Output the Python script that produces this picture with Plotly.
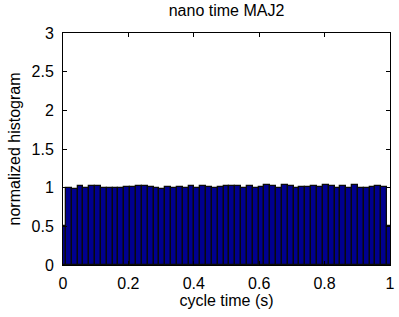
import plotly.graph_objects as go

# bin centers: 0, 1/56, ..., 1
n_bins = 56
centers = [i / n_bins for i in range(n_bins + 1)]
heights = [0.50,
           0.99, 0.98, 1.02, 0.99, 1.02, 1.02, 1.00, 1.00, 1.00, 1.00,
           1.01, 1.01, 1.02, 1.02, 1.01, 0.99, 0.98, 1.01, 0.99, 1.01,
           1.00, 1.02, 1.00, 1.02, 1.01, 1.00, 1.01, 1.02, 1.02, 1.02,
           1.00, 1.02, 1.00, 1.01, 1.04, 1.02, 0.99, 1.03, 1.02, 1.00,
           1.01, 1.01, 1.02, 1.01, 1.03, 1.02, 1.00, 1.02, 1.00, 1.03,
           0.99, 0.99, 1.01, 1.02, 1.01,
           0.50]

x_ticks = [0, 0.2, 0.4, 0.6, 0.8, 1]
x_tick_text = ["0", "0.2", "0.4", "0.6", "0.8", "1"]
y_ticks = [0, 0.5, 1, 1.5, 2, 2.5, 3]
y_tick_text = ["0", "0.5", "1", "1.5", "2", "2.5", "3"]

FONT = "Liberation Sans"
FS = 16

fig = go.Figure(go.Bar(
    x=centers, y=heights, width=1 / n_bins,
    marker=dict(color="rgb(0,0,143)", line=dict(color="rgb(10,10,10)", width=1.3)),
    hoverinfo="skip",
))

fig.update_layout(
    width=399, height=317,
    margin=dict(l=63, r=9, t=33, b=52, autoexpand=False),
    paper_bgcolor="white", plot_bgcolor="white",
    showlegend=False,
    bargap=0,
    font=dict(family=FONT, size=FS, color="black"),
    title=dict(text="nano time MAJ2", x=(63 + 390) / 2 / 399, xanchor="center",
               y=1 - 10 / 317, yanchor="middle",
               font=dict(family=FONT, size=FS, color="black")),
)
fig.update_xaxes(
    range=[0, 1], autorange=False, tickvals=x_ticks, ticktext=x_tick_text,
    tickfont=dict(family=FONT, size=FS, color="black"),
    showgrid=False, zeroline=False, showline=True, linecolor="black", linewidth=1,
    mirror="ticks", ticks="inside", ticklen=4, tickcolor="black",
    title=dict(text="cycle time (s)", standoff=3,
               font=dict(family=FONT, size=FS, color="black")),
    ticklabelstandoff=4, automargin=False, ticklabeloverflow="allow",
)
fig.update_yaxes(
    range=[0, 3], autorange=False, tickvals=y_ticks, ticktext=y_tick_text,
    tickfont=dict(family=FONT, size=FS, color="black"),
    showgrid=False, zeroline=False, showline=True, linecolor="black", linewidth=1,
    mirror="ticks", ticks="inside", ticklen=4, tickcolor="black",
    title=dict(text="normalized histogram", standoff=6,
               font=dict(family=FONT, size=FS, color="black")),
    ticklabelstandoff=5, automargin=False, ticklabeloverflow="allow",
)

fig.write_html(
    "out.html",
    config={"displayModeBar": False},
    post_script="document.body.style.margin='0';document.body.style.overflow='hidden';",
)
